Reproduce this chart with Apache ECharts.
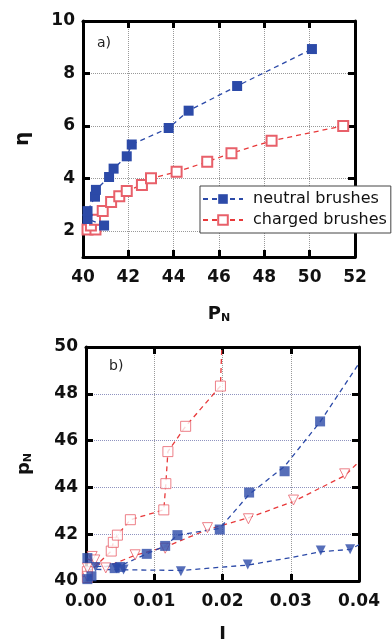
<!DOCTYPE html>
<html>
<head>
<meta charset="utf-8">
<script src="https://cdn.jsdelivr.net/npm/echarts@6/dist/echarts.min.js"></script>
<style>
  html, body { margin: 0; padding: 0; background: #fff; }
  #chart { width: 392px; height: 644px; }
</style>
</head>
<body>
<div id="chart"></div>
<script>
// panel a) eta vs P_N
const neutralA = [[40.93, 2.2], [40.2, 2.45], [40.2, 2.75], [40.53, 3.3], [40.57, 3.56], [41.15, 4.05],
  [41.35, 4.37], [41.93, 4.84], [42.15, 5.29], [43.78, 5.92], [44.66, 6.58], [46.8, 7.52], [50.1, 8.93]];
const chargedA = [[40.2, 2.05], [40.55, 2.05], [40.35, 2.2], [40.53, 2.42], [40.87, 2.75], [41.24, 3.1],
  [41.6, 3.32], [41.93, 3.52], [42.6, 3.75], [43.0, 4.0], [44.13, 4.25], [45.48, 4.63], [46.55, 4.96],
  [48.32, 5.43], [51.48, 6.0]];
const xTicksA = [40, 42, 44, 46, 48, 50, 52];
const yTicksA = [2, 4, 6, 8, 10];

// panel b) p_N vs I
const chargedSqB = [[0.0002, 40.15], [0.0002, 40.4], [0.0037, 41.28], [0.004, 41.65], [0.0046, 41.96],
  [0.0065, 42.62], [0.0114, 43.04], [0.0117, 44.16], [0.012, 45.53], [0.0146, 46.61], [0.0197, 48.33]];
const chargedSqLine = [[0.0002, 40.3], [0.0037, 41.28], [0.004, 41.65], [0.0046, 41.96], [0.0065, 42.62],
  [0.0114, 43.04], [0.0117, 44.16], [0.012, 45.53], [0.0146, 46.61], [0.0197, 48.33], [0.0199, 50]];
const chargedTriB = [[0.0002, 40.2], [0.0002, 40.56], [0.0009, 41.05], [0.0013, 40.9], [0.0029, 40.56],
  [0.0072, 41.12], [0.0116, 41.4], [0.0178, 42.28], [0.0238, 42.66], [0.0304, 43.46], [0.0379, 44.58]];
const chargedTriLine = [[0.0002, 40.95], [0.0029, 40.6], [0.0072, 41.1], [0.0116, 41.45], [0.0178, 42.2],
  [0.0238, 42.7], [0.0304, 43.4], [0.0379, 44.5], [0.04, 45.1]];
const neutralSqB = [[0.0002, 40.08], [0.0008, 40.2], [0.0002, 40.98], [0.0042, 40.55], [0.005, 40.6],
  [0.0089, 41.16], [0.0116, 41.5], [0.0134, 41.96], [0.0196, 42.2], [0.0239, 43.78], [0.0291, 44.69],
  [0.0343, 46.82]];
const neutralSqLine = [[0.0002, 40.6], [0.005, 40.65], [0.0089, 41.16], [0.0116, 41.5], [0.0134, 41.96],
  [0.0196, 42.25], [0.0239, 43.7], [0.0291, 44.9], [0.0343, 46.8], [0.04, 49.3]];
const neutralTriB = [[0.0014, 40.6], [0.0045, 40.55], [0.0055, 40.49], [0.0139, 40.42], [0.0237, 40.7],
  [0.0344, 41.3], [0.0387, 41.36]];
const neutralTriLine = [[0.0002, 40.5], [0.0139, 40.45], [0.0237, 40.68], [0.03, 41.0], [0.0344, 41.25],
  [0.0387, 41.35], [0.04, 41.55]];
const xTicksB = [0, 0.01, 0.02, 0.03, 0.04];
const yTicksB = [40, 42, 44, 46, 48, 50];

const BLUE = '#2c4aa8';
const RED = '#e8393a';
const RED_MARK = '#e8606a';
const FONT = 'DejaVu Sans';
const DASH = [5, 4];

const chart = echarts.init(document.getElementById('chart'), null, { renderer: 'canvas' });

const tickLabel = { fontFamily: FONT, fontSize: 17, fontWeight: 'bold', color: '#111' };
const axisLine = { show: true, onZero: false, lineStyle: { color: '#000', width: 3 } };
const axisTick = { show: true, inside: true, length: 7, lineStyle: { color: '#000', width: 3 } };
const grid = { show: true, lineStyle: { color: '#999', type: 'dotted', width: 1 } };

function axisPair(gridIndex, dim, min, max, ticks, fmt, nameOpts, gridColor) {
  const main = {
    type: 'value', gridIndex, min, max,
    position: dim === 'x' ? 'bottom' : 'left',
    axisLine, axisTick: { ...axisTick, customValues: ticks },
    axisLabel: { ...tickLabel, customValues: ticks, formatter: fmt, margin: dim === 'x' ? 12 : 8 },
    splitLine: { ...grid, lineStyle: { ...grid.lineStyle, color: gridColor || '#999' } },
    ...nameOpts
  };
  const mirror = {
    type: 'value', gridIndex, min, max,
    position: dim === 'x' ? 'top' : 'right',
    axisLine, axisTick: { ...axisTick, customValues: ticks },
    axisLabel: { show: false }, splitLine: { show: false }
  };
  return [main, mirror];
}

const nameStyle = { fontFamily: FONT, fontSize: 18, fontWeight: 'bold', color: '#111', rich: {
  s: { fontFamily: FONT, fontSize: 11, fontWeight: 'bold', verticalAlign: 'bottom', padding: [8, 0, 0, 0] }
} };

const [xa, xa2] = axisPair(0, 'x', 40, 52, xTicksA, v => String(v),
  { name: 'P{s|N}', nameLocation: 'middle', nameGap: 48, nameTextStyle: nameStyle });
const [ya, ya2] = axisPair(0, 'y', 1, 10, yTicksA, v => String(v),
  { name: 'η', nameLocation: 'middle', nameGap: 50, nameTextStyle: { ...nameStyle, fontSize: 20 } });
const [xb, xb2] = axisPair(1, 'x', 0, 0.04, xTicksB, v => v.toFixed(2),
  { name: 'I', nameLocation: 'middle', nameGap: 44, nameTextStyle: nameStyle });
const [yb, yb2] = axisPair(1, 'y', 40, 50, yTicksB, v => String(v),
  { name: 'p{s|N}', nameLocation: 'middle', nameGap: 52, nameTextStyle: nameStyle }, '#8f93c0');

function markSeries(name, data, xi, yi, symbol, color, filled, rotate) {
  return {
    name, type: 'scatter', xAxisIndex: xi, yAxisIndex: yi, data,
    symbol, symbolSize: 10, symbolRotate: rotate || 0,
    itemStyle: filled ? { color } : { color: '#fff', borderColor: color, borderWidth: 1 },
    z: 4, silent: true
  };
}
function dashSeries(name, data, xi, yi, color) {
  return {
    name, type: 'line', xAxisIndex: xi, yAxisIndex: yi, data, symbol: 'none',
    lineStyle: { color, width: 1.3, type: DASH }, z: 3, silent: true, clip: true
  };
}

chart.setOption({
  animation: false,
  backgroundColor: '#fff',
  grid: [
    { left: 83, top: 21, width: 272, height: 236 },
    { left: 86, top: 347, width: 273, height: 238 }
  ],
  title: [
    { text: 'a)', left: 92, top: 31, textStyle: { fontFamily: FONT, fontSize: 14, fontWeight: 'normal', color: '#222' } },
    { text: 'b)', left: 104, top: 354, textStyle: { fontFamily: FONT, fontSize: 14, fontWeight: 'normal', color: '#222' } }
  ],
  legend: {
    data: ['neutral brushes', 'charged brushes'],
    orient: 'vertical', left: 200, top: 186,
    backgroundColor: '#fff', borderColor: '#444', borderWidth: 1,
    padding: [5, 4, 5, 2], itemGap: 5, itemWidth: 40, itemHeight: 12,
    textStyle: { fontFamily: FONT, fontSize: 16, color: '#111', padding: [0, 0, 0, 5] },
    z: 10
  },
  xAxis: [xa, xa2, xb, xb2],
  yAxis: [ya, ya2, yb, yb2],
  series: [
    {
      name: 'neutral brushes', type: 'line', xAxisIndex: 0, yAxisIndex: 0, data: neutralA,
      symbol: 'rect', symbolSize: 10, itemStyle: { color: BLUE },
      lineStyle: { color: BLUE, width: 1.3, type: DASH }, z: 4
    },
    {
      name: 'charged brushes', type: 'line', xAxisIndex: 0, yAxisIndex: 0, data: chargedA,
      symbol: 'emptyRect', symbolSize: 10, itemStyle: { color: RED_MARK, borderColor: RED_MARK, borderWidth: 1 },
      lineStyle: { color: RED, width: 1.3, type: DASH }, z: 3
    },
    dashSeries('b-charged-sq-line', chargedSqLine, 2, 2, RED),
    dashSeries('b-charged-tri-line', chargedTriLine, 2, 2, RED),
    dashSeries('b-neutral-sq-line', neutralSqLine, 2, 2, BLUE),
    dashSeries('b-neutral-tri-line', neutralTriLine, 2, 2, BLUE),
    markSeries('b-charged-sq', chargedSqB, 2, 2, 'rect', RED_MARK, false),
    markSeries('b-charged-tri', chargedTriB, 2, 2, 'triangle', RED_MARK, false, 180),
    markSeries('b-neutral-sq', neutralSqB, 2, 2, 'rect', BLUE, true),
    markSeries('b-neutral-tri', neutralTriB, 2, 2, 'triangle', BLUE, true, 180)
  ]
});

window.addEventListener('resize', () => chart.resize());
</script>
</body>
</html>
